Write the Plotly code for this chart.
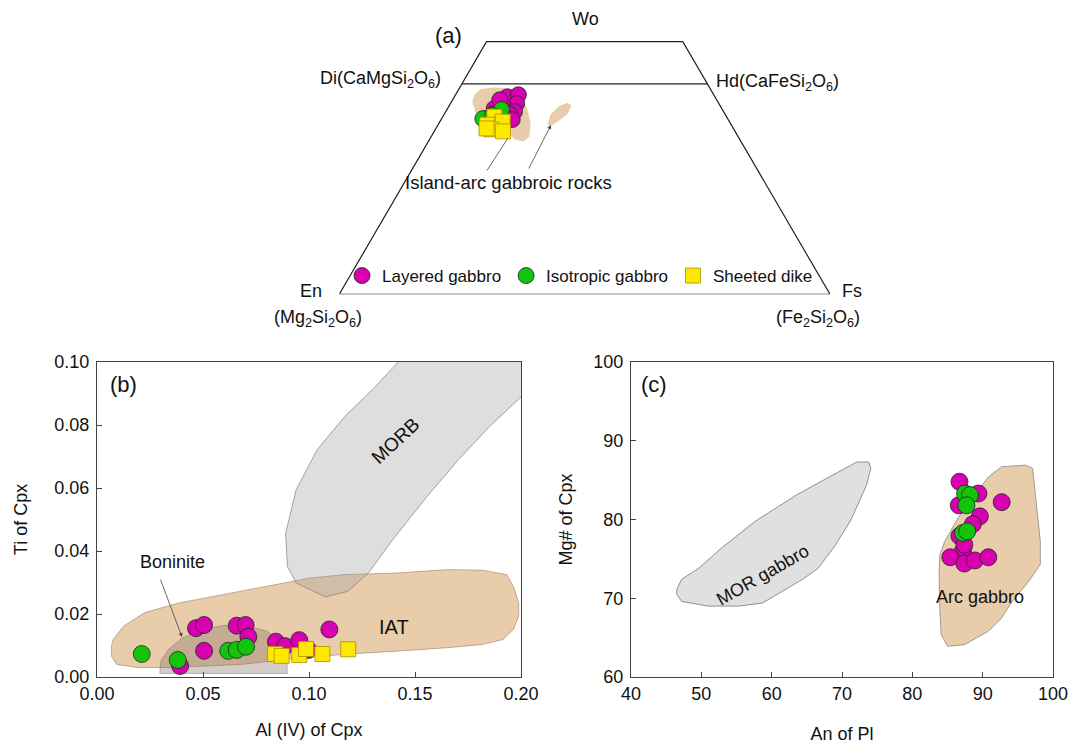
import plotly.graph_objects as go

# ---------------- (a) Pyroxene quadrilateral data (Wo %, Fs %) ----------------
TERN_LAYERED_WO = [46.9, 47.4, 45.3, 45.0, 44.1, 43.4, 41.7, 42.7, 42.7, 46.2, 41.5]
TERN_LAYERED_FS = [10.8, 12.8, 13.5, 10.8, 9.5, 14.0, 8.7, 9.9, 13.4, 9.6, 14.5]
TERN_ISO_WO = [41.7, 43.9, 42.5]
TERN_ISO_FS = [8.4, 11.1, 10.0]
TERN_DIKE_WO = [42.2, 41.0, 40.3, 39.2, 38.7, 39.4]
TERN_DIKE_FS = [10.5, 12.8, 10.0, 11.4, 14.0, 10.3]

ARC_FIELD1_WO = [47.6, 48.8, 49.1, 48.8, 46.9, 43.9, 40.6, 37.5, 36.3, 36.8, 38.7, 39.2, 40.6, 43.4, 45.8, 47.6]
ARC_FIELD1_FS = [3.8, 4.6, 7.1, 10.7, 13.7, 16.4, 18.7, 20.0, 19.4, 17.3, 15.0, 12.0, 9.1, 6.0, 4.2, 3.8]
ARC_FIELD2_WO = [40.3, 42.7, 44.8, 45.5, 44.8, 42.9, 41.0, 39.9, 40.3]
ARC_FIELD2_FS = [22.3, 21.7, 22.5, 23.8, 24.9, 25.1, 24.0, 23.1, 22.3]

OUTLINE_WO = [0, 0, 60, 60, 0]
OUTLINE_FS = [0, 100, 40, 0, 0]
DIHD_WO = [50, 50]
DIHD_FS = [0, 50]

# ---------------- (b) Ti vs Al(IV) of Cpx ----------------
B_LAYERED_AL = [0.0392, 0.0467, 0.0505, 0.0505, 0.0659, 0.0701, 0.0714, 0.0844, 0.0887, 0.0954, 0.0997, 0.1096]
B_LAYERED_TI = [0.0035, 0.0155, 0.0165, 0.0083, 0.0163, 0.0165, 0.0128, 0.0112, 0.0098, 0.0117, 0.0086, 0.0151]
B_ISO_AL = [0.0211, 0.0381, 0.0619, 0.0659, 0.0703]
B_ISO_TI = [0.0073, 0.0054, 0.0083, 0.0086, 0.0096]
B_DIKE_AL = [0.0840, 0.0871, 0.0954, 0.0986, 0.1063, 0.1185]
B_DIKE_TI = [0.0073, 0.0067, 0.0070, 0.0089, 0.0073, 0.0088]

IAT_AL = [0.0076, 0.0125, 0.0223, 0.0386, 0.0597, 0.0841, 0.1004, 0.1167, 0.1411, 0.1655, 0.1818, 0.1932,
          0.1964, 0.1989, 0.1989, 0.1964, 0.1915, 0.1818, 0.1655, 0.1411, 0.1167, 0.0972, 0.0841, 0.0679,
          0.0516, 0.0353, 0.0190, 0.0093, 0.0068, 0.0068, 0.0076]
IAT_TI = [0.0119, 0.0161, 0.0204, 0.0235, 0.0262, 0.0293, 0.0314, 0.0325, 0.0330, 0.0341, 0.0339, 0.0325,
          0.0288, 0.0235, 0.0193, 0.0151, 0.0119, 0.0103, 0.0093, 0.0082, 0.0072, 0.0061, 0.0051, 0.0040,
          0.0035, 0.0030, 0.0030, 0.0040, 0.0066, 0.0098, 0.0119]
MORB_AL = [0.142, 0.131, 0.1167, 0.1037, 0.0939, 0.0890, 0.0898, 0.0939, 0.1077, 0.1183, 0.1280, 0.1395,
           0.1557, 0.1704, 0.1850, 0.2000, 0.2110, 0.2225, 0.2225, 0.142]
MORB_TI = [0.100, 0.092, 0.0826, 0.0720, 0.0594, 0.0457, 0.0351, 0.0299, 0.0254, 0.0272, 0.0330, 0.0436,
           0.0573, 0.0689, 0.0794, 0.0889, 0.0953, 0.1016, 0.1080, 0.108]
BON_AL = [0.0296, 0.0301, 0.0337, 0.0402, 0.0483, 0.0597, 0.0711, 0.0801, 0.0866, 0.0895, 0.0898, 0.0296]
BON_TI = [0.0011, 0.0051, 0.0088, 0.0124, 0.0148, 0.0164, 0.0161, 0.0146, 0.0114, 0.0066, 0.0011, 0.0011]

# ---------------- (c) Mg# of Cpx vs An of Pl ----------------
C_LAYERED_AN = [86.7, 86.6, 89.4, 92.7, 89.6, 88.6, 87.2, 85.4, 87.4, 88.9, 90.8, 86.7, 87.4]
C_LAYERED_MG = [84.8, 81.8, 83.3, 82.2, 80.4, 79.4, 76.0, 75.2, 74.4, 74.8, 75.2, 77.9, 76.8]
C_ISO_AN = [87.5, 88.2, 87.7, 87.2, 87.8]
C_ISO_MG = [83.3, 83.1, 81.8, 78.3, 78.5]

MOR_AN = [46.5, 47.2, 49.6, 52.9, 57.7, 63.5, 69.2, 72.1, 73.8, 74.1, 73.5, 71.2, 68.8, 66.6, 64.4, 61.6,
          58.7, 55.3, 51.0, 47.2, 46.5, 46.5]
MOR_MG = [71.1, 72.4, 73.8, 76.4, 79.8, 83.1, 85.9, 87.3, 87.3, 86.5, 84.4, 79.8, 76.4, 73.8, 72.4, 70.9,
          69.4, 69.0, 69.0, 69.6, 70.5, 71.1]
ARC_AN = [83.9, 84.6, 86.5, 88.9, 90.8, 92.7, 96.1, 97.1, 97.7, 98.2, 98.2, 96.6, 94.2, 92.7, 90.8, 87.4,
          85.0, 84.1, 83.9, 83.8, 83.9]
ARC_MG = [75.5, 77.2, 80.2, 83.1, 85.4, 86.7, 86.9, 86.5, 81.4, 77.2, 74.3, 72.2, 69.6, 67.5, 65.8, 64.1,
          63.9, 65.4, 68.8, 73.0, 75.5]

# ---------------- styling ----------------
FONT = "Arial, Liberation Sans, sans-serif"
MAG = "#d800b0"
GRN = "#12c40c"
YEL = "#ffe800"
TAN = "#e9cdab"
W, H = 1069, 744


def px(x):
    return x / W


def py(y):
    return 1 - y / H


def tern_xy(wo, fs):
    return ([(f + w / 2) / 100 for w, f in zip(wo, fs)], [w / 100 for w in wo])


fig = go.Figure()

# ----- ternary (drawn on cartesian axes x3/y3) -----
tx, ty = tern_xy(ARC_FIELD1_WO, ARC_FIELD1_FS)
fig.add_trace(go.Scatter(x=tx, y=ty, fill="toself", fillcolor=TAN, mode="lines", line=dict(width=0),
                         xaxis="x3", yaxis="y3", showlegend=False, hoverinfo="skip"))
tx, ty = tern_xy(ARC_FIELD2_WO, ARC_FIELD2_FS)
fig.add_trace(go.Scatter(x=tx, y=ty, fill="toself", fillcolor=TAN, mode="lines", line=dict(width=0),
                         xaxis="x3", yaxis="y3", showlegend=False, hoverinfo="skip"))
tx, ty = tern_xy(OUTLINE_WO, OUTLINE_FS)
fig.add_trace(go.Scatter(x=tx, y=ty, mode="lines", line=dict(color="#222", width=1.2),
                         xaxis="x3", yaxis="y3", showlegend=False, hoverinfo="skip"))
tx, ty = tern_xy(DIHD_WO, DIHD_FS)
fig.add_trace(go.Scatter(x=tx, y=ty, mode="lines", line=dict(color="#222", width=1.2),
                         xaxis="x3", yaxis="y3", showlegend=False, hoverinfo="skip"))

mline = dict(color="#222", width=0.8)
tx, ty = tern_xy(TERN_LAYERED_WO, TERN_LAYERED_FS)
fig.add_trace(go.Scatter(x=tx, y=ty, mode="markers", name="Layered gabbro",
                         marker=dict(color=MAG, size=16, line=mline), xaxis="x3", yaxis="y3"))
tx, ty = tern_xy(TERN_ISO_WO, TERN_ISO_FS)
fig.add_trace(go.Scatter(x=tx, y=ty, mode="markers", name="Isotropic gabbro",
                         marker=dict(color=GRN, size=16, line=mline), xaxis="x3", yaxis="y3"))
tx, ty = tern_xy(TERN_DIKE_WO, TERN_DIKE_FS)
fig.add_trace(go.Scatter(x=tx, y=ty, mode="markers", name="Sheeted dike",
                         marker=dict(color=YEL, size=15, symbol="square", line=dict(color="#a89000", width=0.8)),
                         xaxis="x3", yaxis="y3"))

# ----- panel (b) -----
fig.add_trace(go.Scatter(x=IAT_AL, y=IAT_TI, fill="toself", fillcolor=TAN, mode="lines",
                         line=dict(color="rgba(150,120,95,0.7)", width=0.8), showlegend=False, hoverinfo="skip"))
fig.add_trace(go.Scatter(x=MORB_AL, y=MORB_TI, fill="toself", fillcolor="rgba(160,160,160,0.35)", mode="lines",
                         line=dict(color="rgba(120,120,120,0.8)", width=0.8), showlegend=False, hoverinfo="skip"))
fig.add_trace(go.Scatter(x=BON_AL, y=BON_TI, fill="toself", fillcolor="rgba(130,110,100,0.35)", mode="lines",
                         line=dict(color="rgba(120,100,90,0.5)", width=0.8), showlegend=False, hoverinfo="skip"))
fig.add_trace(go.Scatter(x=B_LAYERED_AL, y=B_LAYERED_TI, mode="markers", showlegend=False,
                         marker=dict(color=MAG, size=17, line=mline)))
fig.add_trace(go.Scatter(x=B_ISO_AL, y=B_ISO_TI, mode="markers", showlegend=False,
                         marker=dict(color=GRN, size=17, line=mline)))
fig.add_trace(go.Scatter(x=B_DIKE_AL, y=B_DIKE_TI, mode="markers", showlegend=False,
                         marker=dict(color=YEL, size=15, symbol="square", line=dict(color="#a89000", width=0.8))))

# ----- panel (c) -----
fig.add_trace(go.Scatter(x=MOR_AN, y=MOR_MG, fill="toself", fillcolor="#e0e0e0", mode="lines",
                         line=dict(color="#777", width=0.8), xaxis="x2", yaxis="y2", showlegend=False, hoverinfo="skip"))
fig.add_trace(go.Scatter(x=ARC_AN, y=ARC_MG, fill="toself", fillcolor=TAN, mode="lines",
                         line=dict(color="#888", width=0.8), xaxis="x2", yaxis="y2", showlegend=False, hoverinfo="skip"))
fig.add_trace(go.Scatter(x=C_LAYERED_AN, y=C_LAYERED_MG, mode="markers", showlegend=False,
                         marker=dict(color=MAG, size=17, line=mline), xaxis="x2", yaxis="y2"))
fig.add_trace(go.Scatter(x=C_ISO_AN, y=C_ISO_MG, mode="markers", showlegend=False,
                         marker=dict(color=GRN, size=17, line=mline), xaxis="x2", yaxis="y2"))

axis_common = dict(showgrid=False, zeroline=False, showline=True, mirror=True, linecolor="#444", linewidth=1,
                   ticks="inside", ticklen=5, tickcolor="#444", tickfont=dict(size=18, color="#111"),
                   fixedrange=True, automargin=False)

fig.update_layout(
    template="none",
    width=W, height=H, autosize=False,
    margin=dict(l=0, r=0, t=0, b=0, pad=0),
    paper_bgcolor="white", plot_bgcolor="white",
    font=dict(family=FONT, size=18, color="#111"),
    xaxis=dict(domain=[px(97), px(521)], range=[0, 0.2], dtick=0.05, tickformat=".2f", anchor="y",
               title=dict(text="Al (IV) of Cpx", standoff=20, font=dict(size=18)), **axis_common),
    yaxis=dict(domain=[py(677), py(362)], range=[0, 0.1], dtick=0.02, tickformat=".2f", anchor="x",
               ticklabelstandoff=3,
               title=dict(text="Ti of Cpx", standoff=22, font=dict(size=18)), **axis_common),
    xaxis2=dict(domain=[px(631), px(1053)], range=[40, 100], dtick=10, anchor="y2",
                title=dict(text="An of Pl", standoff=24, font=dict(size=18)), **axis_common),
    yaxis2=dict(domain=[py(677), py(362)], range=[60, 100], dtick=10, anchor="x2",
                ticklabelstandoff=3,
                title=dict(text="Mg# of Cpx", standoff=16, font=dict(size=18)), **axis_common),
    xaxis3=dict(domain=[px(339.3), px(830)], range=[0, 1], visible=False, anchor="y3", fixedrange=True,
                automargin=False),
    yaxis3=dict(domain=[py(294.3), py(294.3 - 0.62 * 421)], range=[0, 0.62], visible=False, anchor="x3",
                fixedrange=True, automargin=False),
    legend=dict(orientation="h", x=px(342), y=py(276), xanchor="left", yanchor="middle",
                font=dict(size=17, color="#111"), bgcolor="rgba(0,0,0,0)", borderwidth=0),
)

ann = []


def add_text(text, x, y, size=18, xanchor="center", angle=0, xref="paper", yref="paper"):
    ann.append(dict(text=text, x=x, y=y, xref=xref, yref=yref, showarrow=False, xanchor=xanchor,
                    yanchor="middle", textangle=angle, font=dict(size=size, family=FONT, color="#111")))


# ternary labels
add_text("(a)", px(448), py(36), size=22)
add_text("Wo", px(585), py(19))
add_text("Di(CaMgSi<sub>2</sub>O<sub>6</sub>)", px(443), py(79), xanchor="right")
add_text("Hd(CaFeSi<sub>2</sub>O<sub>6</sub>)", px(714), py(82), xanchor="left")
add_text("En", px(311), py(291))
add_text("(Mg<sub>2</sub>Si<sub>2</sub>O<sub>6</sub>)", px(318), py(318))
add_text("Fs", px(852), py(291))
add_text("(Fe<sub>2</sub>Si<sub>2</sub>O<sub>6</sub>)", px(818), py(318))
add_text("Island-arc gabbroic rocks", 0.3438, 0.2663, size=18.5, xref="x3", yref="y3")
ann.append(dict(x=0.3438, y=0.3713, ax=0.299, ay=0.2905, xref="x3", yref="y3", axref="x3", ayref="y3",
                text="", showarrow=True, arrowhead=0, arrowwidth=0.8, arrowcolor="#444"))
ann.append(dict(x=0.4314, y=0.4021, ax=0.3846, ay=0.2952, xref="x3", yref="y3", axref="x3", ayref="y3",
                text="", showarrow=True, arrowhead=2, arrowsize=1, arrowwidth=0.8, arrowcolor="#444"))

# panel b labels
add_text("(b)", 0.0125, 0.093, size=22, xref="x", yref="y")
add_text("MORB", 0.141, 0.075, size=19, angle=-43, xref="x", yref="y")
add_text("IAT", 0.140, 0.0159, size=20, xref="x", yref="y")
add_text("Boninite", 0.0358, 0.0365, xref="x", yref="y")
ann.append(dict(x=0.0401, y=0.0127, ax=0.0297, ay=0.0314, xref="x", yref="y", axref="x", ayref="y",
                text="", showarrow=True, arrowhead=2, arrowsize=1, arrowwidth=0.8, arrowcolor="#444"))

# panel c labels
add_text("(c)", 43.2, 97.2, size=22, xref="x2", yref="y2")
add_text("MOR gabbro", 58.7, 73.0, angle=-30, xref="x2", yref="y2")
add_text("Arc gabbro", 89.6, 70.1, xref="x2", yref="y2")

fig.update_layout(annotations=ann)
fig.write_html("out.html")
